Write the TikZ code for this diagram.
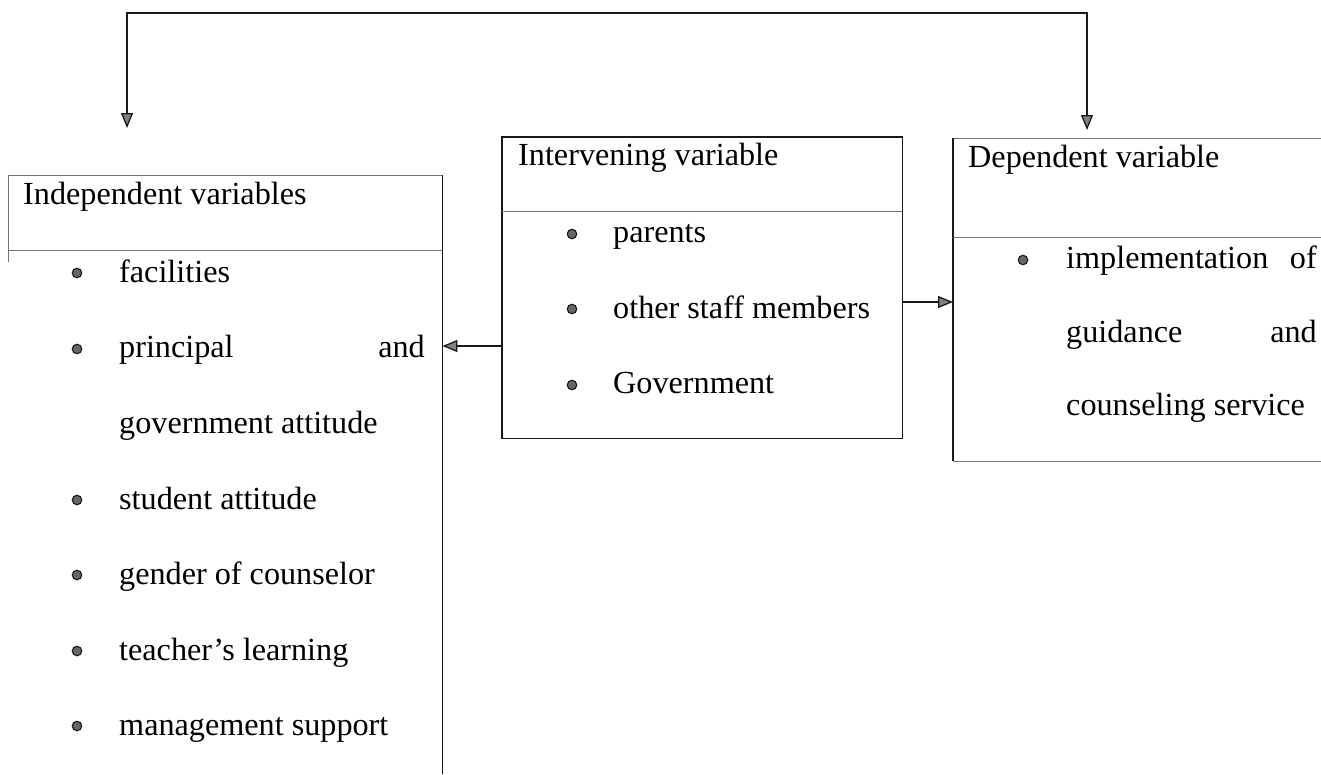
\documentclass[tikz,border=0pt]{standalone}
\usepackage{fontspec}
\setmainfont{Liberation Serif}
\usetikzlibrary{arrows.meta}
\begin{document}
\begin{tikzpicture}[x=1pt,y=-1pt,
  txt/.style={anchor=base west,inner sep=0pt,font=\fontsize{32.2}{37}\selectfont},
  txtr/.style={anchor=base east,inner sep=0pt,font=\fontsize{32.2}{37}\selectfont},
  edge/.style={draw=black!90,line width=1.3pt},
  faint/.style={draw=black!55,line width=1pt},
  bul/.style={circle,draw=black!90,fill=black!60,line width=1.1pt,inner sep=0pt,minimum size=9.5pt},
  arr/.style={draw=black!90,line width=1.3pt,-{Triangle[length=15pt,width=12pt,fill=black!50]}},
  arrb/.style={draw=black!90,line width=1.3pt,{Triangle[length=15pt,width=12pt,fill=black!50]}-{Triangle[length=15pt,width=12pt,fill=black!50]}},
  area/.style={draw=none,inner sep=0pt,anchor=north west}]
\useasboundingbox (0,0) rectangle (1321,774);
\fill[white] (0,0) rectangle (1321,774);
% box areas
\node[area,minimum width=434pt,minimum height=599pt] (ind) at (8,175) {};
\node[area,minimum width=400pt,minimum height=301pt] (mid) at (502,137) {};
\node[area,minimum width=368pt,minimum height=323pt] (dep) at (953,138) {};
% left box
\draw[faint] (ind.north west) -- (ind.north east);
\draw[faint] (8,250) -- (442,250);
\draw[faint] (ind.north west) -- (8,262);
\draw[edge] (ind.north east) -- (ind.south east);
% middle box
\draw[edge] (mid.north west) rectangle (mid.south east);
\draw[faint] (502,211) -- (902,211);
% right box
\draw[faint] (dep.north east) -- (dep.north west);
\draw[edge] (dep.north west) -- (dep.south west);
\draw[faint] (dep.south west) -- (dep.south east);
\draw[faint] (953,237) -- (1321,237);
% headers
\node[txt] (h1) at (23,204) {Independent variables};
\node[txt] (h2) at (518,165) {Intervening variable};
\node[txt] (h3) at (968,167) {Dependent variable};
% left items
\node[bul] (b1) at (77,273) {};
\node[txt] (t1) at (119,282) {facilities};
\node[bul] (b2) at (77,349) {};
\node[txt] (t2) at (119,357) {principal};
\node[txtr] (t2b) at (425,357) {and};
\node[txt] (t2c) at (119,433) {government attitude};
\node[bul] (b3) at (77,500) {};
\node[txt] (t3) at (119,509) {student attitude};
\node[bul] (b4) at (77,575) {};
\node[txt] (t4) at (119,584) {gender of counselor};
\node[bul] (b5) at (77,651) {};
\node[txt] (t5) at (119,660) {teacher’s learning};
\node[bul] (b6) at (77,726) {};
\node[txt] (t6) at (119,735) {management support};
% middle items
\node[bul] (m1) at (572,234) {};
\node[txt] (u1) at (613,242) {parents};
\node[bul] (m2) at (572,309) {};
\node[txt] (u2) at (613,318) {other staff members};
\node[bul] (m3) at (572,385) {};
\node[txt] (u3) at (613,393) {Government};
% right items
\node[bul] (r1) at (1023,260) {};
\node[txt] (v1) at (1066,268) {implementation};
\node[txtr] (v1b) at (1317,268) {of};
\node[txt] (v2) at (1066,342) {guidance};
\node[txtr] (v2b) at (1317,342) {and};
\node[txt] (v3) at (1066,415) {counseling service};
% connectors
\coordinate (y1) at (0,346);
\coordinate (y2) at (0,302);
\draw[arr] (mid.west |- y1) -- (ind.east |- y1);
\draw[arr] (mid.east |- y2) -- (dep.west |- y2);
\coordinate (ta) at (127,128);
\coordinate (tb) at (1087,130);
\coordinate (top) at (600,13);
\draw[arrb] (ta) |- (top) -| (tb);
\end{tikzpicture}
\end{document}
